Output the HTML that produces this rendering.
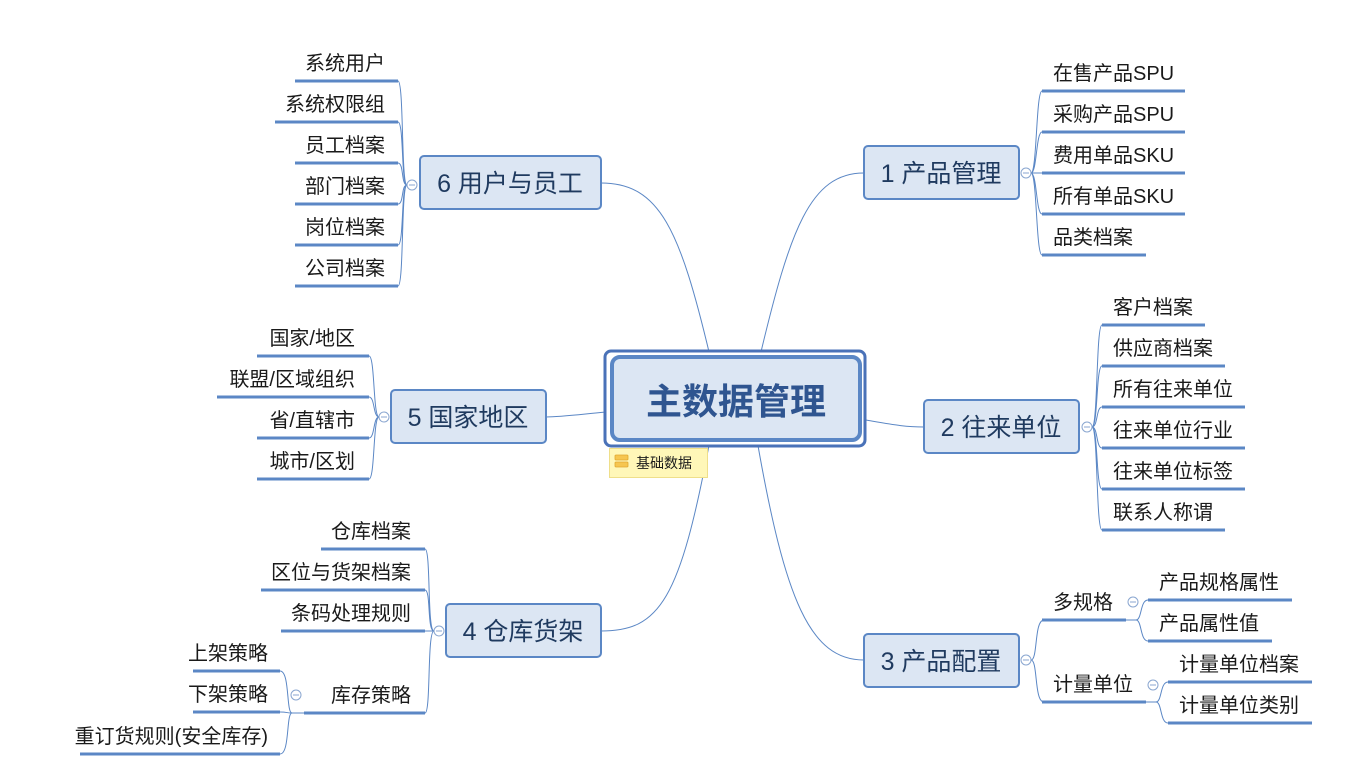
<!DOCTYPE html>
<html><head><meta charset="utf-8"><style>
html,body{margin:0;padding:0;background:#fff;width:1356px;height:772px;overflow:hidden}
svg text{font-family:"Liberation Sans","Microsoft YaHei","Noto Sans CJK SC",sans-serif;fill:#1a1a1a}
.l{stroke:#5b87c5;stroke-width:3;fill:none}
.c{stroke:#5b87c5;stroke-width:1;fill:none}
.b{fill:#dce6f3;stroke:#5b87c5;stroke-width:2}
.bt{font-size:25px;fill:#1f3a5f}
.t{font-size:20px}
.o{fill:#fff;stroke:#8aa6d0;stroke-width:1}
</style></head><body>
<svg width="1356" height="772" viewBox="0 0 1356 772" xmlns="http://www.w3.org/2000/svg">
<!-- main connectors -->
<path class="c" d="M760 356 C790 230 810 173 864 173"/>
<path class="c" d="M866 420 C895 425 905 427 924 427"/>
<path class="c" d="M757 440 C785 600 810 660 864 660"/>
<path class="c" d="M710 356 C680 230 660 183 601 183"/>
<path class="c" d="M606 412 C575 415 560 417 546 417"/>
<path class="c" d="M710 440 C680 600 660 631 601 631"/>

<!-- center -->
<rect x="605" y="351" width="260" height="95" rx="6" fill="#fff" stroke="#4a72b8" stroke-width="3"/>
<rect x="612" y="357" width="248" height="83" rx="8" fill="#dce6f3" stroke="#5b87c5" stroke-width="4"/>
<text x="736" y="414" text-anchor="middle" style="font-size:36px;font-weight:bold;fill:#2f5590">主数据管理</text>
<rect x="609.5" y="448.5" width="98" height="29" fill="#fff7b8" stroke="#efdf8a"/>
<rect x="615" y="455" width="13" height="5" rx="1" fill="#f6c650" stroke="#e0a830" stroke-width="0.8"/>
<rect x="615" y="462" width="13" height="5" rx="1" fill="#f6c650" stroke="#e0a830" stroke-width="0.8"/>
<text x="636" y="468" style="font-size:14px">基础数据</text>

<!-- 1 产品管理 -->
<rect class="b" x="864" y="146" width="155" height="53" rx="4"/>
<text class="bt" x="941" y="182" text-anchor="middle">1 产品管理</text>
<path class="c" d="M1031 173 C1037 173 1036 91 1042 91 M1031 173 C1037 173 1036 132 1042 132 M1031 173 L1042 173 M1031 173 C1037 173 1036 214 1042 214 M1031 173 C1037 173 1036 255 1042 255"/>
<circle class="o" cx="1026" cy="173" r="5"/><line x1="1023" y1="173" x2="1029" y2="173" stroke="#8aa6d0"/>
<line class="l" x1="1042" y1="91" x2="1185" y2="91"/><text class="t" x="1053" y="80">在售产品SPU</text>
<line class="l" x1="1042" y1="132" x2="1185" y2="132"/><text class="t" x="1053" y="121">采购产品SPU</text>
<line class="l" x1="1042" y1="173" x2="1185" y2="173"/><text class="t" x="1053" y="162">费用单品SKU</text>
<line class="l" x1="1042" y1="214" x2="1185" y2="214"/><text class="t" x="1053" y="203">所有单品SKU</text>
<line class="l" x1="1042" y1="255" x2="1146" y2="255"/><text class="t" x="1053" y="244">品类档案</text>

<!-- 2 往来单位 -->
<rect class="b" x="924" y="400" width="155" height="53" rx="4"/>
<text class="bt" x="1001" y="436" text-anchor="middle">2 往来单位</text>
<path class="c" d="M1092 427 C1098 427 1096 325 1102 325 M1092 427 C1098 427 1096 366 1102 366 M1092 427 C1098 427 1096 407 1102 407 M1092 427 C1098 427 1096 448 1102 448 M1092 427 C1098 427 1096 489 1102 489 M1092 427 C1098 427 1096 530 1102 530"/>
<circle class="o" cx="1087" cy="427" r="5"/><line x1="1084" y1="427" x2="1090" y2="427" stroke="#8aa6d0"/>
<line class="l" x1="1102" y1="325" x2="1205" y2="325"/><text class="t" x="1113" y="314">客户档案</text>
<line class="l" x1="1102" y1="366" x2="1225" y2="366"/><text class="t" x="1113" y="355">供应商档案</text>
<line class="l" x1="1102" y1="407" x2="1245" y2="407"/><text class="t" x="1113" y="396">所有往来单位</text>
<line class="l" x1="1102" y1="448" x2="1245" y2="448"/><text class="t" x="1113" y="437">往来单位行业</text>
<line class="l" x1="1102" y1="489" x2="1245" y2="489"/><text class="t" x="1113" y="478">往来单位标签</text>
<line class="l" x1="1102" y1="530" x2="1225" y2="530"/><text class="t" x="1113" y="519">联系人称谓</text>

<!-- 3 产品配置 -->
<rect class="b" x="864" y="634" width="155" height="53" rx="4"/>
<text class="bt" x="941" y="670" text-anchor="middle">3 产品配置</text>
<path class="c" d="M1031 660 C1038 660 1034 620 1044 620 M1031 660 C1038 660 1034 702 1044 702"/>
<circle class="o" cx="1026" cy="660" r="5"/><line x1="1023" y1="660" x2="1029" y2="660" stroke="#8aa6d0"/>
<line class="l" x1="1042" y1="620" x2="1126" y2="620"/><text class="t" x="1053" y="609">多规格</text>
<path class="c" d="M1126 620 L1136 620 C1142 620 1140 600 1148 600 M1136 620 C1142 620 1140 641 1148 641"/>
<circle class="o" cx="1133" cy="602" r="5"/><line x1="1130" y1="602" x2="1136" y2="602" stroke="#8aa6d0"/>
<line class="l" x1="1148" y1="600" x2="1292" y2="600"/><text class="t" x="1159" y="589">产品规格属性</text>
<line class="l" x1="1148" y1="641" x2="1272" y2="641"/><text class="t" x="1159" y="630">产品属性值</text>
<line class="l" x1="1042" y1="702" x2="1146" y2="702"/><text class="t" x="1053" y="691">计量单位</text>
<path class="c" d="M1146 702 L1156 702 C1162 702 1160 682 1168 682 M1156 702 C1162 702 1160 723 1168 723"/>
<circle class="o" cx="1153" cy="685" r="5"/><line x1="1150" y1="685" x2="1156" y2="685" stroke="#8aa6d0"/>
<line class="l" x1="1168" y1="682" x2="1312" y2="682"/><text class="t" x="1179" y="671">计量单位档案</text>
<line class="l" x1="1168" y1="723" x2="1312" y2="723"/><text class="t" x="1179" y="712">计量单位类别</text>

<!-- 6 用户与员工 -->
<rect class="b" x="420" y="156" width="181" height="53" rx="4"/>
<text class="bt" x="510" y="192" text-anchor="middle">6 用户与员工</text>
<path class="c" d="M407 185 C401 185 404 81 398 81 M407 185 C401 185 404 122 398 122 M407 185 C401 185 404 163 398 163 M407 185 C401 185 404 204 398 204 M407 185 C401 185 404 245 398 245 M407 185 C401 185 404 286 398 286"/>
<circle class="o" cx="412" cy="185" r="5"/><line x1="409" y1="185" x2="415" y2="185" stroke="#8aa6d0"/>
<line class="l" x1="295" y1="81" x2="398" y2="81"/><text class="t" x="385" y="70" text-anchor="end">系统用户</text>
<line class="l" x1="275" y1="122" x2="398" y2="122"/><text class="t" x="385" y="111" text-anchor="end">系统权限组</text>
<line class="l" x1="295" y1="163" x2="398" y2="163"/><text class="t" x="385" y="152" text-anchor="end">员工档案</text>
<line class="l" x1="295" y1="204" x2="398" y2="204"/><text class="t" x="385" y="193" text-anchor="end">部门档案</text>
<line class="l" x1="295" y1="245" x2="398" y2="245"/><text class="t" x="385" y="234" text-anchor="end">岗位档案</text>
<line class="l" x1="295" y1="286" x2="398" y2="286"/><text class="t" x="385" y="275" text-anchor="end">公司档案</text>

<!-- 5 国家地区 -->
<rect class="b" x="391" y="390" width="155" height="53" rx="4"/>
<text class="bt" x="468" y="426" text-anchor="middle">5 国家地区</text>
<path class="c" d="M379 417 C373 417 375 356 369 356 M379 417 C373 417 375 397 369 397 M379 417 C373 417 375 438 369 438 M379 417 C373 417 375 479 369 479"/>
<circle class="o" cx="384" cy="417" r="5"/><line x1="381" y1="417" x2="387" y2="417" stroke="#8aa6d0"/>
<line class="l" x1="257" y1="356" x2="369" y2="356"/><text class="t" x="355" y="345" text-anchor="end">国家/地区</text>
<line class="l" x1="217" y1="397" x2="369" y2="397"/><text class="t" x="355" y="386" text-anchor="end">联盟/区域组织</text>
<line class="l" x1="257" y1="438" x2="369" y2="438"/><text class="t" x="355" y="427" text-anchor="end">省/直辖市</text>
<line class="l" x1="257" y1="479" x2="369" y2="479"/><text class="t" x="355" y="468" text-anchor="end">城市/区划</text>

<!-- 4 仓库货架 -->
<rect class="b" x="446" y="604" width="155" height="53" rx="4"/>
<text class="bt" x="523" y="640" text-anchor="middle">4 仓库货架</text>
<path class="c" d="M434 631 C427 631 431 549 425 549 M434 631 C427 631 431 590 425 590 M434 631 L425 631 M434 631 C427 631 431 713 425 713"/>
<circle class="o" cx="439" cy="631" r="5"/><line x1="436" y1="631" x2="442" y2="631" stroke="#8aa6d0"/>
<line class="l" x1="321" y1="549" x2="425" y2="549"/><text class="t" x="411" y="538" text-anchor="end">仓库档案</text>
<line class="l" x1="261" y1="590" x2="425" y2="590"/><text class="t" x="411" y="579" text-anchor="end">区位与货架档案</text>
<line class="l" x1="281" y1="631" x2="425" y2="631"/><text class="t" x="411" y="620" text-anchor="end">条码处理规则</text>
<line class="l" x1="304" y1="713" x2="425" y2="713"/><text class="t" x="411" y="702" text-anchor="end">库存策略</text>
<path class="c" d="M304 713 L292 713 C286 713 290 671 280 671 M292 713 C286 713 288 712 280 712 M292 713 C286 713 290 754 280 754"/>
<circle class="o" cx="296" cy="695" r="5"/><line x1="293" y1="695" x2="299" y2="695" stroke="#8aa6d0"/>
<line class="l" x1="193" y1="671" x2="280" y2="671"/><text class="t" x="268" y="660" text-anchor="end">上架策略</text>
<line class="l" x1="193" y1="712" x2="280" y2="712"/><text class="t" x="268" y="701" text-anchor="end">下架策略</text>
<line class="l" x1="80" y1="754" x2="280" y2="754"/><text class="t" x="268" y="743" text-anchor="end">重订货规则(安全库存)</text>
</svg>
</body></html>
